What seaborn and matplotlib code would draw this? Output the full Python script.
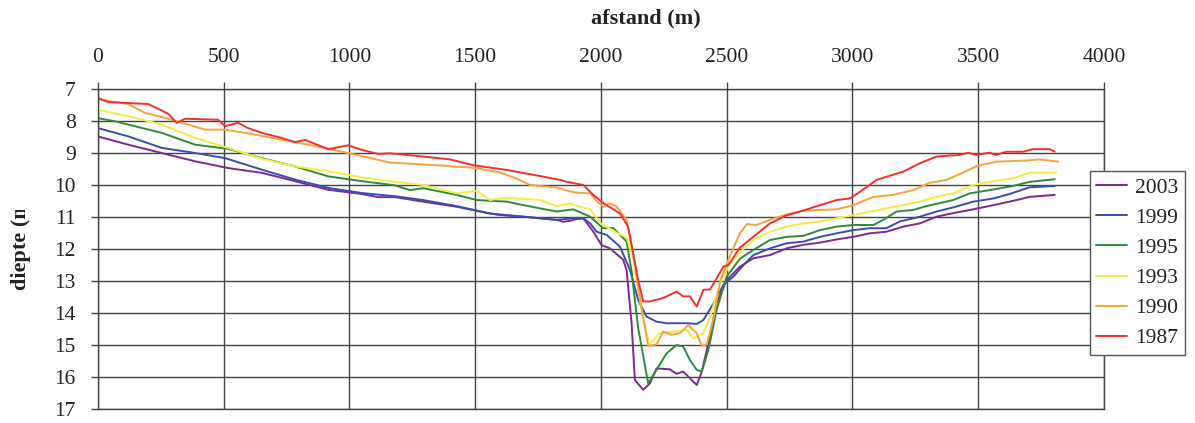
import matplotlib
matplotlib.use("Agg")
import matplotlib.pyplot as plt
from matplotlib.transforms import Bbox
import seaborn as sns
import pandas as pd

# Depth profiles along the channel (distance in m, depth in m) per survey year
x_2003 = [0, 121, 254, 387, 518, 652, 784, 916, 1049, 1114, 1181, 1293, 1427, 1559, 1599, 1692,
          1824, 1850, 1877, 1900, 1930, 1970, 2003, 2036, 2089, 2102, 2122, 2135, 2168, 2195,
          2221, 2274, 2301, 2327, 2381, 2401, 2427, 2460, 2500, 2553, 2606, 2672, 2738, 2804,
          2871, 2937, 3003, 3069, 3135, 3202, 3268, 3334, 3400, 3480, 3560, 3625, 3705, 3804]
d_2003 = [8.48, 8.74, 9.00, 9.26, 9.47, 9.62, 9.88, 10.15, 10.28, 10.38, 10.38, 10.52, 10.68, 10.89, 10.94, 10.99,
          11.09, 11.15, 11.12, 11.07, 11.04, 11.46, 11.88, 11.98, 12.34, 12.66, 14.32, 16.09, 16.40, 16.20,
          15.73, 15.76, 15.90, 15.83, 16.25, 15.83, 14.95, 13.70, 12.97, 12.55, 12.29, 12.19, 11.98, 11.87,
          11.80, 11.70, 11.62, 11.51, 11.46, 11.30, 11.20, 10.99, 10.88, 10.76, 10.63, 10.52, 10.37, 10.31]

x_1999 = [0, 121, 254, 387, 506, 652, 784, 916, 1049, 1181, 1293, 1427, 1559, 1692, 1824, 1890,
          1930, 1957, 1983, 2023, 2076, 2116, 2148, 2181, 2221, 2261, 2341, 2381, 2407, 2448,
          2487, 2527, 2567, 2606, 2672, 2738, 2804, 2871, 2937, 3003, 3069, 3135, 3188, 3268,
          3334, 3400, 3480, 3560, 3625, 3705, 3804]
d_1999 = [8.22, 8.48, 8.84, 9.00, 9.16, 9.52, 9.83, 10.09, 10.25, 10.35, 10.47, 10.66, 10.89, 10.99, 11.09, 11.04,
          11.04, 11.20, 11.46, 11.56, 11.93, 12.66, 13.59, 14.11, 14.27, 14.32, 14.32, 14.34, 14.22, 13.70,
          13.12, 12.86, 12.50, 12.19, 11.98, 11.82, 11.77, 11.62, 11.51, 11.41, 11.35, 11.35, 11.14, 10.99,
          10.83, 10.70, 10.52, 10.42, 10.28, 10.07, 10.03]

x_1995 = [0, 69, 254, 387, 518, 652, 784, 916, 1049, 1181, 1241, 1293, 1427, 1506, 1626, 1692,
          1824, 1890, 1957, 2009, 2050, 2076, 2102, 2122, 2148, 2188, 2221, 2261, 2301, 2327,
          2354, 2381, 2401, 2427, 2460, 2500, 2553, 2606, 2672, 2738, 2804, 2871, 2937, 3003,
          3083, 3122, 3175, 3241, 3294, 3400, 3467, 3546, 3638, 3705, 3804]
d_1995 = [7.91, 8.01, 8.37, 8.74, 8.87, 9.16, 9.42, 9.73, 9.88, 10.01, 10.16, 10.10, 10.31, 10.47, 10.52, 10.63,
          10.83, 10.76, 10.99, 11.35, 11.35, 11.56, 11.76, 12.70, 14.47, 16.20, 15.78, 15.26, 15.00, 15.05,
          15.47, 15.78, 15.83, 15.16, 13.90, 12.86, 12.30, 12.03, 11.72, 11.62, 11.59, 11.41, 11.30, 11.25,
          11.25, 11.09, 10.83, 10.78, 10.66, 10.47, 10.26, 10.16, 10.03, 9.90, 9.82]

x_1993 = [0, 121, 254, 387, 518, 652, 784, 916, 1049, 1162, 1293, 1427, 1506, 1559, 1626, 1758,
          1824, 1877, 1917, 1943, 1957, 2003, 2063, 2102, 2128, 2162, 2192, 2234, 2287, 2341,
          2367, 2407, 2434, 2474, 2514, 2566, 2606, 2672, 2738, 2804, 2871, 2937, 3003, 3069,
          3135, 3202, 3268, 3334, 3400, 3480, 3546, 3638, 3705, 3811]
d_1993 = [7.65, 7.85, 8.11, 8.53, 8.84, 9.18, 9.42, 9.57, 9.76, 9.88, 10.00, 10.26, 10.18, 10.47, 10.40, 10.47,
          10.66, 10.58, 10.68, 10.73, 10.76, 11.23, 11.49, 11.64, 12.27, 13.90, 14.98, 14.63, 14.58, 14.53,
          14.79, 14.63, 14.11, 13.07, 12.45, 12.00, 11.72, 11.46, 11.30, 11.20, 11.14, 11.04, 10.94, 10.83,
          10.73, 10.63, 10.52, 10.37, 10.26, 10.00, 9.90, 9.79, 9.61, 9.61]

x_1990 = [0, 121, 188, 268, 427, 506, 585, 731, 850, 995, 1162, 1361, 1492, 1599, 1665, 1718,
          1824, 1877, 1904, 1957, 1983, 2010, 2036, 2063, 2102, 2128, 2162, 2188, 2221, 2248,
          2281, 2314, 2347, 2381, 2401, 2421, 2448, 2474, 2514, 2553, 2580, 2619, 2672, 2738,
          2804, 2871, 2937, 3003, 3083, 3162, 3241, 3308, 3374, 3440, 3493, 3573, 3678, 3745, 3817]
d_1990 = [7.32, 7.47, 7.75, 7.90, 8.27, 8.27, 8.37, 8.58, 8.76, 9.00, 9.30, 9.39, 9.46, 9.61, 9.80, 10.00,
          10.08, 10.20, 10.24, 10.26, 10.50, 10.68, 10.57, 10.68, 11.09, 12.13, 13.90, 15.03, 14.98, 14.58,
          14.68, 14.63, 14.38, 14.63, 15.03, 14.98, 14.15, 13.00, 12.20, 11.50, 11.22, 11.25, 11.09, 10.92,
          10.80, 10.78, 10.76, 10.63, 10.37, 10.31, 10.16, 9.93, 9.84, 9.61, 9.41, 9.27, 9.24, 9.20, 9.27]

x_1987 = [0, 42, 201, 281, 314, 347, 478, 506, 558, 597, 652, 731, 784, 824, 916, 995,
          1049, 1114, 1162, 1293, 1400, 1492, 1626, 1758, 1837, 1864, 1930, 1970, 2010, 2076,
          2108, 2128, 2148, 2168, 2195, 2248, 2301, 2327, 2354, 2381, 2407, 2434, 2460, 2487,
          2507, 2553, 2606, 2672, 2738, 2804, 2871, 2937, 2990, 3030, 3096, 3202, 3268, 3334,
          3427, 3460, 3490, 3546, 3570, 3612, 3678, 3718, 3784, 3804]
d_1987 = [7.28, 7.41, 7.47, 7.78, 8.06, 7.93, 7.96, 8.16, 8.06, 8.22, 8.37, 8.53, 8.66, 8.59, 8.88, 8.76,
          8.90, 9.03, 9.01, 9.11, 9.20, 9.38, 9.53, 9.72, 9.84, 9.90, 10.00, 10.31, 10.57, 10.89,
          11.30, 12.13, 12.97, 13.64, 13.64, 13.53, 13.33, 13.48, 13.48, 13.80, 13.28, 13.26, 12.92, 12.55,
          12.50, 11.95, 11.62, 11.20, 10.95, 10.80, 10.63, 10.47, 10.42, 10.21, 9.84, 9.58, 9.32, 9.11,
          9.06, 8.99, 9.06, 8.99, 9.06, 8.96, 8.96, 8.88, 8.88, 8.96]

years = ["2003", "1999", "1995", "1993", "1990", "1987"]
series_x = [x_2003, x_1999, x_1995, x_1993, x_1990, x_1987]
series_d = [d_2003, d_1999, d_1995, d_1993, d_1990, d_1987]
colors = ["#7d2a8c", "#3a4db3", "#2f8a3c", "#f0ee45", "#f7a23c", "#f33030"]

x_ticks = [0, 500, 1000, 1500, 2000, 2500, 3000, 3500, 4000]
y_ticks = [7, 8, 9, 10, 11, 12, 13, 14, 15, 16, 17]

frames = [pd.DataFrame({"afstand": xs, "diepte": ds, "jaar": yr})
          for xs, ds, yr in zip(series_x, series_d, years)]
df = pd.concat(frames, ignore_index=True)

sns.set_theme(style="white")
plt.rcParams["font.family"] = ["Liberation Serif", "DejaVu Serif"]

fig = plt.figure(figsize=(11.95, 4.23), dpi=100)
ax = fig.add_axes([0.0818, 0.0331, 0.8421, 0.7565])

sns.lineplot(data=df, x="afstand", y="diepte", hue="jaar", hue_order=years,
             palette=dict(zip(years, colors)), estimator=None, sort=False,
             linewidth=1.4, ax=ax, legend=False)

ax.set_xlim(0, 4000)
ax.set_ylim(17, 7)
ax.set_xticks(x_ticks)
ax.set_yticks(y_ticks)
ax.xaxis.tick_top()
ax.set_xlabel("")
ax.set_ylabel("")
ax.grid(True, color="#444444", linewidth=1.0)
ax.set_axisbelow(True)
for side in ["left", "top", "right", "bottom"]:
    ax.spines[side].set_visible(True)
    ax.spines[side].set_color("#444444")
    ax.spines[side].set_linewidth(1.0)
ax.tick_params(axis="x", which="both", top=True, bottom=False, length=5, width=1,
               color="#444444", pad=11, labelsize=15.5, labelcolor="#222222")
ax.tick_params(axis="y", which="both", left=True, length=5, width=1,
               color="#444444", pad=11, labelsize=15.5, labelcolor="#222222")

fig.text(646 / 1195, 1 - 18 / 423, "afstand (m)", ha="center", va="center",
         fontsize=16, fontweight="bold", color="#222222")

# axis title on the left, cut off by its text frame
ylab = fig.text(21 / 1195, 1 - 290 / 423, "diepte (m)", rotation=90,
                ha="center", va="bottom", fontsize=16, fontweight="bold", color="#222222")
ylab.set_clip_box(Bbox([[0, 0], [60, 423 - 210]]))
ylab.set_clip_on(True)

handles = [plt.Line2D([], [], color=c, linewidth=1.4) for c in colors]
leg = fig.legend(handles, years, loc="upper left",
                 bbox_to_anchor=(1090 / 1195, 1 - 171 / 423),
                 frameon=True, fancybox=False, framealpha=1, edgecolor="#555555",
                 fontsize=15.5, handlelength=1.4, handletextpad=0.4,
                 labelspacing=0.47, borderpad=0.3, borderaxespad=0)
leg.get_frame().set_linewidth(1.0)
for t in leg.get_texts():
    t.set_color("#222222")

fig.savefig("out.png", dpi=100)
